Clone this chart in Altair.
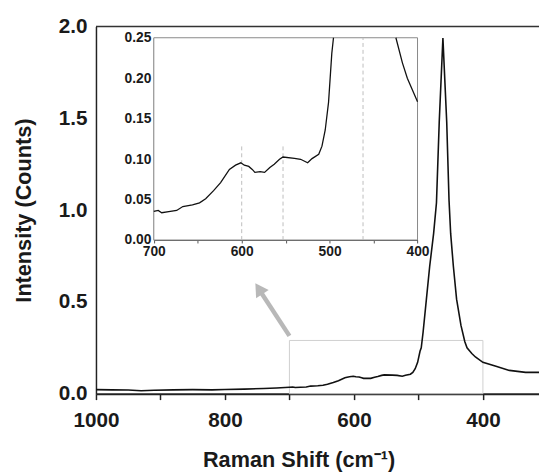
import altair as alt
import pandas as pd

# ---- spectrum ----
shift = [1000, 975, 950, 930, 910, 880, 850, 820, 800, 770, 740, 720,
         700, 695, 691, 683, 674, 667, 656, 648, 641, 632, 624, 614, 607,
         601, 597, 592, 588, 585, 579, 574, 568, 563, 557, 553, 540, 533,
         525, 520, 512.4, 508.7, 505, 501.2, 497.5, 495.6, 492.7, 487.6,
         482.5, 476.4, 472, 467.7, 462, 456.1, 452.5, 450, 445.8, 440.8,
         434, 428, 424.6, 417.2, 411.6, 400, 379.7, 359, 333.8, 313]
intensity = [0.022, 0.021, 0.020, 0.016, 0.019, 0.021, 0.022, 0.021, 0.023,
             0.025, 0.028, 0.031,
             0.0353, 0.0365, 0.0337, 0.035, 0.0365, 0.0414, 0.0434, 0.046,
             0.051, 0.061, 0.071, 0.0873, 0.0925, 0.0954, 0.0925, 0.091,
             0.0873, 0.0836, 0.0844, 0.0836, 0.0897, 0.0937, 0.0998, 0.1026,
             0.101, 0.0998, 0.0954, 0.1006, 0.106, 0.116, 0.136, 0.1705,
             0.231, 0.25, 0.336, 0.515, 0.694, 0.873, 1.04, 1.48, 1.937,
             1.48, 1.052, 0.873, 0.694, 0.515, 0.372, 0.283, 0.25, 0.219,
             0.20, 0.171, 0.149, 0.127, 0.116, 0.116]

# zoom box on main panel
box_from = [700]
box_to = [400]
box_top = [0.29]

# arrow (tail -> head) in main-panel units
arrow_shift = [700, 747]
arrow_int = [0.315, 0.568]
arrow_head_shift = [747.4]
arrow_head_int = [0.572]

# inset reference lines
ref_shift = [600, 553, 462]
ref_top = [0.116, 0.116, 0.25]

main_ticks = [1000, 900, 800, 700, 600, 500, 400]
main_yticks = [0.0, 0.5, 1.0, 1.5, 2.0]
inset_ticks = [700, 650, 600, 550, 500, 450, 400]
inset_yticks = [0.0, 0.05, 0.10, 0.15, 0.20, 0.25]

FONT = "Liberation Sans"
W, H = 449.7, 372.7
INSET_X = [58.7, 326.4]
INSET_Y = [216.7, 11.4]

spec = pd.DataFrame({"shift": shift, "intensity": intensity})
box = pd.DataFrame({"shift": box_from, "shift2": box_to,
                    "intensity": [0.0], "intensity2": box_top})
arrow = pd.DataFrame({"shift": arrow_shift, "intensity": arrow_int})
head = pd.DataFrame({"shift": arrow_head_shift, "intensity": arrow_head_int})
inset_spec = spec[(spec["shift"] <= 700) & (spec["shift"] >= 400)].copy()
inset_spec["yin"] = [v if v <= 0.2501 else None for v in inset_spec["intensity"]]
refs = pd.DataFrame({"shift": ref_shift, "y0": [0.0] * 3, "top": ref_top})
ibox = pd.DataFrame({"shift": [700], "shift2": [400], "y0": [0.0], "top": [0.25]})

xaxis = alt.Axis(values=main_ticks,
                 labelExpr="datum.value % 200 == 0 ? format(datum.value, 'd') : ''",
                 title="Raman Shift (cm⁻¹)", titleX=205.7, titleY=74,
                 titleBaseline="alphabetic", titleAlign="center",
                 labelFontSize=21, titleFontSize=22, tickSize=6, tickWidth=1.5,
                 tickColor="#222", domainColor="#222", domainWidth=2,
                 labelPadding=10, labelFlush=False, labelOverlap=False, grid=False)
yaxis = alt.Axis(values=main_yticks, format=".1f", title="Intensity (Counts)",
                 titleX=-73.3, titleY=H / 2, titleAngle=270, titleBaseline="middle",
                 titleAlign="center", labelFontSize=21, titleFontSize=22,
                 ticks=False, tickSize=0, labelPadding=9, domainColor="#222",
                 domainWidth=1.5, labelOverlap=False, grid=False)

xs = alt.Scale(domain=[1000, 313], nice=False, zero=False)
ys = alt.Scale(domain=[0, 2], nice=False, zero=False)
X = alt.X("shift:Q", scale=xs, axis=xaxis)
Y = alt.Y("intensity:Q", scale=ys, axis=yaxis)

main_line = alt.Chart(spec).mark_line(color="#111", strokeWidth=1.6).encode(x=X, y=Y)
box_rect = alt.Chart(box).mark_rect(fillOpacity=0, stroke="#cfcfcf", strokeWidth=1).encode(
    x=X, x2="shift2:Q", y=Y, y2="intensity2:Q")
arrow_line = alt.Chart(arrow).mark_line(color="#b8b8b8", strokeWidth=4.5).encode(x=X, y=Y)
arrow_head = alt.Chart(head).mark_point(shape="triangle-up", filled=True, size=230,
                                        angle=327, color="#b8b8b8", opacity=1).encode(x=X, y=Y)
top_rule = alt.Chart(box).mark_rule(color="#333", strokeWidth=1.5).encode(
    y=alt.Y(datum=2, scale=ys, axis=yaxis))
main = alt.layer(box_rect, arrow_line, arrow_head, main_line, top_rule)

ixaxis = alt.Axis(orient="bottom", offset=-156, values=inset_ticks,
                  labelExpr="datum.value % 100 == 0 ? format(datum.value, 'd') : ''",
                  title=None, labelFontSize=14, tickSize=3, tickColor="#555",
                  domainColor="#555", domainWidth=1.2, labelPadding=2,
                  labelFlush=False, labelOverlap=False, grid=False)
iyaxis = alt.Axis(orient="left", offset=-58.7, values=inset_yticks, format=".2f",
                  title=None, labelFontSize=14, ticks=False, tickSize=0,
                  domainColor="#555", domainWidth=1.2, labelPadding=3,
                  labelOverlap=False, grid=False)
ixs = alt.Scale(domain=[700, 400], range=INSET_X, nice=False, zero=False)
iys = alt.Scale(domain=[0, 0.25], range=INSET_Y, nice=False, zero=False)
IX = alt.X("shift:Q", scale=ixs, axis=ixaxis)

inset_box = alt.Chart(ibox).mark_rect(fill="white", stroke="#888", strokeWidth=1).encode(
    x=IX, x2="shift2:Q", y=alt.Y("y0:Q", scale=iys, axis=iyaxis), y2="top:Q")
inset_refs = alt.Chart(refs).mark_rule(color="#bdbdbd", strokeDash=[4, 3], strokeWidth=1).encode(
    x=IX, y=alt.Y("y0:Q", scale=iys, axis=iyaxis), y2="top:Q")
inset_line = alt.Chart(inset_spec).mark_line(color="#111", strokeWidth=1.3).encode(
    x=IX, y=alt.Y("yin:Q", scale=iys, axis=iyaxis))
inset = alt.layer(inset_box, inset_refs, inset_line)

chart = alt.layer(main, inset).resolve_scale(
    x="independent", y="independent"
).properties(
    width=W, height=H, autosize="none",
    padding={"left": 89.3, "top": 15.3, "right": 0, "bottom": 78}
).configure_view(stroke=None).configure_axis(
    labelFont=FONT, titleFont=FONT, labelFontWeight="bold", titleFontWeight="bold",
    labelColor="#1a1a1a", titleColor="#1a1a1a"
)

chart.save("out.html", embed_options={"renderer": "svg", "actions": False})
